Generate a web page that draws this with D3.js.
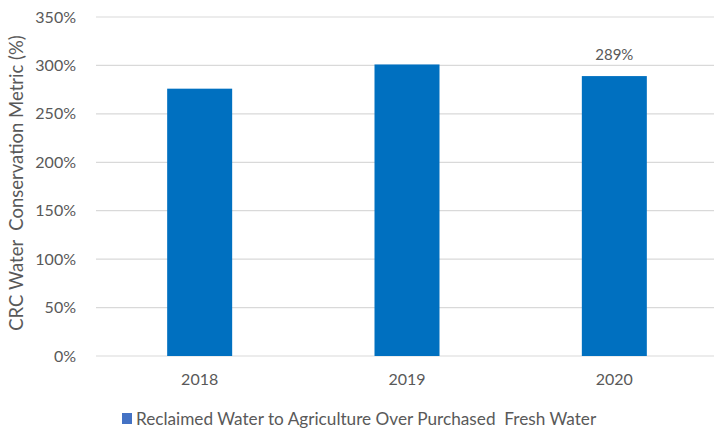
<!DOCTYPE html>
<html>
<head>
<meta charset="utf-8">
<script src="https://cdn.jsdelivr.net/npm/d3@7"></script>
<style>
  html, body { margin: 0; padding: 0; background: #fff; }
  svg { display: block; font-family: Lato, "Open Sans", sans-serif; }
</style>
</head>
<body>
<svg id="chart" width="714" height="430"></svg>
<script>
// Reclaimed water to agriculture over purchased fresh water, by year
const years = ["2018", "2019", "2020"];
const metricPct = [276, 301, 289];
const labelledYears = ["2020"];
const yTicks = [0, 50, 100, 150, 200, 250, 300, 350];
const seriesName = "Reclaimed Water to Agriculture Over Purchased\u00A0 Fresh Water";
const yTitle = "CRC Water  Conservation Metric (%)";

const svg = d3.select("#chart");
const textColor = "#595959";

const x = d3.scaleBand()
  .domain(years)
  .range([96, 718])
  .paddingInner(0.6865)
  .paddingOuter(0.6865 / 2);

const y = d3.scaleLinear()
  .domain([0, 350])
  .range([356, 17]);

// horizontal gridlines
svg.append("g")
  .selectAll("line")
  .data(yTicks)
  .join("line")
  .attr("x1", 96)
  .attr("x2", 714)
  .attr("y1", d => y(d))
  .attr("y2", d => y(d))
  .attr("stroke", "#d9d9d9")
  .attr("stroke-width", 1.2);

// y-axis tick labels
const yAxis = svg.append("g")
  .attr("transform", "translate(76,0)")
  .call(d3.axisLeft(y).tickValues(yTicks).tickFormat(d => d + "%").tickSize(0).tickPadding(0));
yAxis.select(".domain").remove();
yAxis.selectAll("text")
  .attr("fill", textColor)
  .attr("font-size", 16)
  .attr("font-family", "Lato, 'Open Sans', sans-serif");

// bars
svg.append("g")
  .selectAll("rect")
  .data(years.map((yr, i) => ({ yr, v: metricPct[i] })))
  .join("rect")
  .attr("x", d => x(d.yr))
  .attr("width", x.bandwidth())
  .attr("y", d => y(d.v))
  .attr("height", d => y(0) - y(d.v))
  .attr("fill", "#0070C0");

// value label
svg.append("g")
  .selectAll("text")
  .data(years.map((yr, i) => ({ yr, v: metricPct[i] })).filter(d => labelledYears.includes(d.yr)))
  .join("text")
  .attr("x", d => x(d.yr) + x.bandwidth() / 2)
  .attr("y", d => y(d.v) - 16)
  .attr("text-anchor", "middle")
  .attr("fill", textColor)
  .attr("font-size", 15)
  .text(d => d.v + "%");

// x-axis labels
const xAxis = svg.append("g")
  .attr("transform", "translate(0,356)")
  .call(d3.axisBottom(x).tickSize(0).tickPadding(18));
xAxis.select(".domain").remove();
xAxis.selectAll("text")
  .attr("fill", textColor)
  .attr("font-size", 16)
  .attr("font-family", "Lato, 'Open Sans', sans-serif");

// y-axis title
svg.append("text")
  .attr("transform", "translate(23,183) rotate(-90)")
  .attr("text-anchor", "middle")
  .attr("fill", textColor)
  .attr("font-size", 18.5)
  .style("white-space", "pre")
  .text(yTitle);

// legend
const legend = svg.append("g").attr("transform", "translate(122,413)");
legend.append("rect")
  .attr("width", 10)
  .attr("height", 11)
  .attr("fill", "#4472C4");
legend.append("text")
  .attr("x", 14)
  .attr("y", 11.5)
  .attr("fill", textColor)
  .attr("font-size", 17.2)
  .style("white-space", "pre")
  .text(seriesName);
</script>
</body>
</html>
